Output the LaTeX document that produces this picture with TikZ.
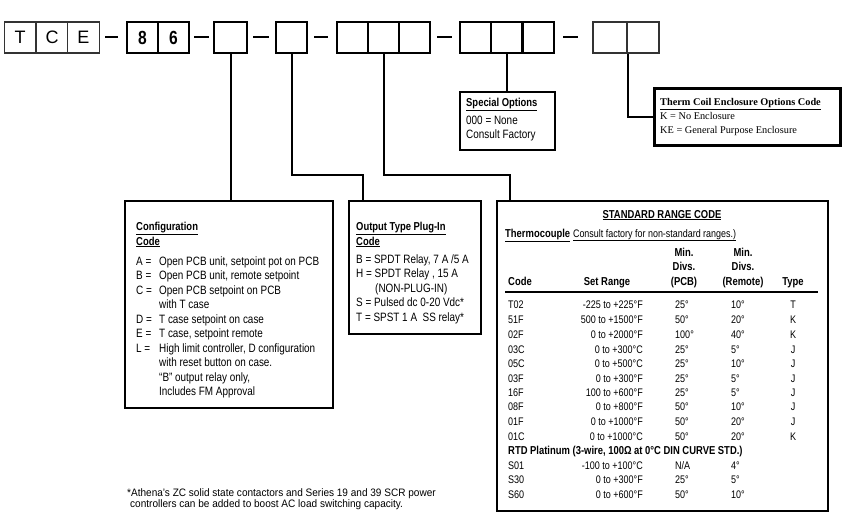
\documentclass[tikz,border=0pt]{standalone}
\usepackage{fontspec}
\setmainfont{Liberation Sans}[FakeStretch=0.82]
\newfontfamily\plainsans{Liberation Sans}
\newfontfamily\footsans{Liberation Sans}[FakeStretch=0.93]
\newfontfamily\serifx{Liberation Serif}
\newcommand\rngrow[6]{%
  \node[tx,anchor=base west] (#2c) at (508,#1+4) {#2};
  \node[tx,anchor=base east] (#2r) at (643,#1+4) {#3};
  \node[tx,anchor=base west] (#2p) at (675,#1+4) {#4};
  \node[tx,anchor=base west] (#2m) at (731,#1+4) {#5};
  \node[tx,anchor=base] (#2t) at (793,#1+4) {#6};}
\begin{document}
\begin{tikzpicture}[x=1pt,y=-1pt,
  thincell/.style={draw=black!80,line width=1.2pt,minimum width=31.7pt,minimum height=31pt,inner sep=0pt,font=\plainsans\fontsize{18}{18}\selectfont},
  boldcell/.style={draw=black,line width=2pt,minimum width=31pt,minimum height=31pt,inner sep=0pt,font=\bfseries\fontsize{19}{19}\selectfont},
  sep/.style={line width=1.3pt},
  conn/.style={line width=2pt},
  box/.style={draw=black,line width=2pt,inner sep=0pt,anchor=north west},
  tx/.style={inner sep=0pt,font=\fontsize{11}{14.4}\selectfont},
  big/.style={inner sep=0pt,anchor=base west,font=\fontsize{12.1}{14.5}\selectfont},
  ttl/.style={inner sep=0pt,anchor=base west,font=\bfseries\fontsize{11.5}{14.5}\selectfont},
  foot/.style={inner sep=0pt,anchor=base west,font=\footsans\fontsize{10.8}{10.8}\selectfont},
  sertx/.style={inner sep=0pt,anchor=base west,font=\serifx\fontsize{10.3}{10.3}\selectfont}]
\useasboundingbox (0,0) rectangle (845,519);
% ---- header code boxes
\node[thincell] (T) at (20,37.5) {T};
\node[thincell] (C) at (52,37.5) {C};
\node[thincell] (E) at (83.5,37.5) {E};
\node[boldcell] (n8) at (142.5,37.5) {8};
\node[boldcell] (n6) at (173.5,37.5) {6};
\node[boldcell,minimum width=33pt] (cA) at (230.5,37.5) {};
\node[boldcell] (cB) at (291.5,37.5) {};
\node[boldcell] (t1a) at (352.5,37.5) {};
\node[boldcell] (t1b) at (383.5,37.5) {};
\node[boldcell] (t1c) at (414.5,37.5) {};
\node[boldcell] (t2a) at (475.5,37.5) {};
\node[boldcell] (t2b) at (506.5,37.5) {};
\node[boldcell] (t2c) at (538,37.5) {};
\node[thincell,minimum width=34pt] (d1) at (610,37.5) {};
\node[thincell,minimum width=32pt] (d2) at (643,37.5) {};
% separators
\coordinate (s1a) at (105,37); \coordinate (s1b) at (118,37);
\coordinate (s2a) at (194,37); \coordinate (s2b) at (209,37);
\coordinate (s3a) at (253,37); \coordinate (s3b) at (269,37);
\coordinate (s4a) at (314,37); \coordinate (s4b) at (328,37);
\coordinate (s5a) at (437,37); \coordinate (s5b) at (452,37);
\coordinate (s6a) at (563,37); \coordinate (s6b) at (578,37);
\draw[sep] (s1a) -- (s1b);
\draw[sep] (s2a) -- (s2b);
\draw[sep] (s3a) -- (s3b);
\draw[sep] (s4a) -- (s4b);
\draw[sep] (s5a) -- (s5b);
\draw[sep] (s6a) -- (s6b);
% ---- boxes
\node[box,minimum width=208pt,minimum height=207pt] (config) at (124,200) {};
\node[box,minimum width=132pt,minimum height=133pt] (output) at (348,200) {};
\node[box,minimum width=331pt,minimum height=310pt] (std) at (496,200) {};
\node[box,minimum width=95pt,minimum height=58pt] (spec) at (459,91) {};
\node[box,line width=3pt,minimum width=186pt,minimum height=57pt] (therm) at (653,87) {};
% ---- connectors
\coordinate (j2) at (363,175);
\coordinate (j3) at (510,175);
\draw[conn] (cA.south) -- (cA.south |- config.north);
\draw[conn] (cB.south) |- (j2) -- (j2 |- output.north);
\draw[conn] (t1b.south) |- (j3) -- (j3 |- std.north);
\draw[conn] (t2b.south) -- (t2b.south |- spec.north);
\draw[conn] (d1.south east) |- (therm.west);
% ---- special options
\node[ttl] (specT) at (466,106) {\underline{Special Options}};
\node[big] (spec1) at (466,124) {000 = None};
\node[big] (spec2) at (466,138) {Consult Factory};
% ---- therm coil
\node[sertx,font=\serifx\bfseries\fontsize{10.3}{10.3}\selectfont] (thT) at (660,105.5) {\underline{Therm Coil Enclosure Options Code}};
\node[sertx] (th1) at (660,119.5) {K = No Enclosure};
\node[sertx] (th2) at (660,133.5) {KE = General Purpose Enclosure};
% ---- configuration
\node[ttl] (cfgT1) at (136,230) {\underline{Configuration}};
\node[ttl] (cfgT2) at (136,245) {\underline{Code}};
\node[big] (cfgL) at (136,265) {%
\begin{tabular}[t]{@{}p{23pt}@{}l@{}}
A = & Open PCB unit, setpoint pot on PCB\\
B = & Open PCB unit, remote setpoint\\
C = & Open PCB setpoint on PCB\\
    & with T case\\
D = & T case setpoint on case\\
E = & T case, setpoint remote\\
L = & High limit controller, D configuration\\
    & with reset button on case.\\
    & ``B'' output relay only,\\
    & Includes FM Approval
\end{tabular}};
% ---- output type
\node[ttl] (outT1) at (356,230) {\underline{Output Type Plug-In}};
\node[ttl] (outT2) at (356,245) {\underline{Code}};
\node[big] (outL) at (356,263) {%
\begin{tabular}[t]{@{}l@{}}
B = SPDT Relay, 7 A /5 A\\
H = SPDT Relay , 15 A\\
\hspace{19pt}(NON-PLUG-IN)\\
S = Pulsed dc 0-20 Vdc*\\
T = SPST 1 A \ SS relay*
\end{tabular}};
% ---- standard range table
\node[ttl,anchor=base] (stdT) at (662,218) {\underline{STANDARD RANGE CODE}};
\node[ttl] (tcT) at (505,237) {\underline{Thermocouple}};
\node[tx,anchor=base west,font=\fontsize{10.9}{10.9}\selectfont] (tcN) at (tcT.base east) {\ \underline{Consult factory for non-standard ranges.)}};
\node[ttl] (hCode) at (508,285) {Code};
\node[ttl,anchor=base] (hSet) at (607,285) {Set Range};
\node[ttl,anchor=base,align=center] (hPCB) at (684,285) {Min.\\Divs.\\(PCB)};
\node[ttl,anchor=base,align=center] (hRem) at (743,285) {Min.\\Divs.\\(Remote)};
\node[ttl,anchor=base] (hType) at (793,285) {Type};
\coordinate (r1) at (505,292); \coordinate (r2) at (818,292);
\draw[line width=2pt] (r1) -- (r2);
\rngrow{304}{T02}{-225 to +225°F}{25°}{10°}{T}
\rngrow{319}{51F}{500 to +1500°F}{50°}{20°}{K}
\rngrow{334}{02F}{0 to +2000°F}{100°}{40°}{K}
\rngrow{349}{03C}{0 to +300°C}{25°}{5°}{J}
\rngrow{363}{05C}{0 to +500°C}{25°}{10°}{J}
\rngrow{378}{03F}{0 to +300°F}{25°}{5°}{J}
\rngrow{392}{16F}{100 to +600°F}{25°}{5°}{J}
\rngrow{406}{08F}{0 to +800°F}{50°}{10°}{J}
\rngrow{421}{01F}{0 to +1000°F}{50°}{20°}{J}
\rngrow{436}{01C}{0 to +1000°C}{50°}{20°}{K}
\node[ttl] (rtd) at (508,454) {RTD Platinum (3-wire, 100Ω at 0°C DIN CURVE STD.)};
\rngrow{465}{S01}{-100 to +100°C}{N/A}{4°}{}
\rngrow{479}{S30}{0 to +300°F}{25°}{5°}{}
\rngrow{494}{S60}{0 to +600°F}{50°}{10°}{}
% ---- footnote
\node[foot] (fn1) at (127,496.5) {*Athena’s ZC solid state contactors and Series 19 and 39 SCR power};
\node[foot] (fn2) at (130,507.5) {controllers can be added to boost AC load switching capacity.};
\end{tikzpicture}
\end{document}
